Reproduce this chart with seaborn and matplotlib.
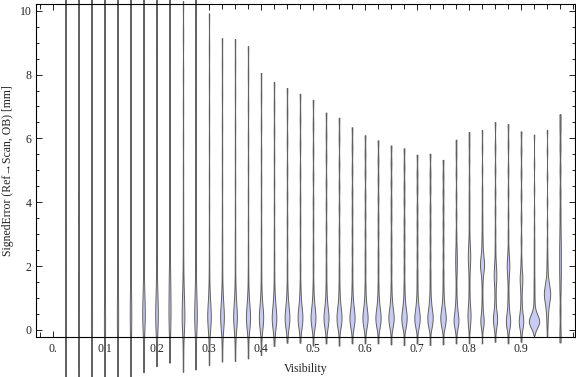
import matplotlib
matplotlib.use("Agg")
import matplotlib.pyplot as plt
import pandas as pd
import seaborn as sns
from matplotlib.ticker import MultipleLocator, FixedLocator

# visibility bins (violin centres)
visibility = [0.025, 0.05, 0.075, 0.1, 0.125, 0.15, 0.175, 0.2, 0.225, 0.25,
              0.275, 0.3, 0.325, 0.35, 0.375, 0.4, 0.425, 0.45, 0.475, 0.5,
              0.525, 0.55, 0.575, 0.6, 0.625, 0.65, 0.675, 0.7, 0.725, 0.75,
              0.775, 0.8, 0.825, 0.85, 0.875, 0.9, 0.925, 0.95, 0.975]

# smallest / largest signed error per bin [mm]
err_lo = [-1.8, -1.8, -1.8, -1.8, -1.7, -1.6, -1.34, -1.15, -1.04, -1.31,
          -1.25, -1.10, -0.99, -0.97, -0.89, -0.78, -0.50, -0.40, -0.40, -0.49,
          -0.42, -0.49, -0.42, -0.42, -0.42, -0.45, -0.47, -0.42, -0.47, -0.45,
          -0.42, -0.42, -0.42, -0.37, -0.42, -0.37, -0.16, -0.21, -0.39]
err_hi = [11.5, 11.5, 11.5, 11.5, 11.5, 11.5, 11.5, 11.5, 11.5, 10.3,
          10.8, 9.92, 9.14, 9.11, 8.89, 8.05, 7.77, 7.58, 7.40, 7.21,
          6.81, 6.65, 6.35, 6.10, 5.94, 5.78, 5.69, 5.49, 5.52, 5.33,
          5.96, 6.20, 6.26, 6.51, 6.45, 6.22, 6.12, 6.26, 6.76]

# remaining errors per bin [mm]
err_body = [
    [-1.2, -0.6, -0.2, 0.2, 0.6, 1.0, 1.6, 2.3, 3.1, 4.0, 4.9, 5.8, 6.7, 7.6, 8.5, 9.4, 10.3, 11.0],
    [-1.1, -0.5, -0.1, 0.3, 0.7, 1.1, 1.7, 2.4, 3.2, 4.1, 5.0, 5.9, 6.8, 7.7, 8.6, 9.5, 10.4, 11.0],
    [-1.2, -0.6, -0.2, 0.2, 0.5, 0.9, 1.4, 2.1, 2.9, 3.8, 4.7, 5.6, 6.5, 7.4, 8.3, 9.2, 10.1, 10.9],
    [-1.0, -0.5, -0.1, 0.2, 0.5, 0.9, 1.4, 2.0, 2.8, 3.7, 4.6, 5.5, 6.4, 7.3, 8.2, 9.1, 10.0, 10.9],
    [-0.9, -0.4, 0.0, 0.3, 0.6, 0.9, 1.3, 1.8, 2.5, 3.3, 4.2, 5.1, 6.0, 7.0, 8.0, 9.0, 10.0, 10.9],
    [-0.8, -0.3, 0.1, 0.3, 0.5, 0.8, 1.1, 1.5, 2.1, 2.9, 3.8, 4.8, 5.8, 6.8, 7.8, 8.8, 9.8, 10.8],
    [-0.8, -0.3, 0.05, 0.15, 0.25, 0.35, 0.45, 0.55, 0.65, 0.75, 0.9, 1.05, 1.25, 1.5, 1.9, 2.6, 3.5, 4.5, 5.5, 6.5, 7.5, 8.5, 9.5, 10.5],
    [-0.6, -0.2, 0.05, 0.15, 0.25, 0.35, 0.45, 0.55, 0.65, 0.75, 0.9, 1.05, 1.25, 1.5, 1.8, 2.4, 3.3, 4.3, 5.3, 6.3, 7.3, 8.3, 9.3, 10.3],
    [-0.5, -0.1, 0.1, 0.25, 0.4, 0.55, 0.7, 0.85, 1.0, 1.2, 1.4, 1.6, 1.8, 2.1, 2.5, 3.1, 4.0, 5.0, 6.0, 7.0, 8.0, 9.0, 10.0],
    [-0.7, -0.2, 0.05, 0.15, 0.25, 0.35, 0.45, 0.55, 0.65, 0.8, 0.95, 1.1, 1.3, 1.6, 2.0, 2.6, 3.3, 4.1, 5.0, 6.0, 7.0, 8.0, 9.2],
    [-0.6, -0.2, 0.05, 0.15, 0.25, 0.35, 0.45, 0.55, 0.65, 0.8, 0.95, 1.1, 1.3, 1.6, 2.0, 2.6, 3.3, 4.1, 5.0, 6.0, 7.0, 8.0, 9.0, 10.0],
    [-0.5, -0.1, 0.1, 0.2, 0.3, 0.35, 0.4, 0.45, 0.5, 0.6, 0.7, 0.85, 1.0, 1.2, 1.6, 2.2, 3.0, 3.9, 4.8, 5.8, 6.8, 7.8, 8.8],
    [-0.4, -0.05, 0.1, 0.2, 0.3, 0.35, 0.4, 0.45, 0.5, 0.6, 0.7, 0.85, 1.0, 1.2, 1.6, 2.2, 2.9, 3.7, 4.6, 5.5, 6.4, 7.4, 8.3],
    [-0.4, -0.05, 0.1, 0.2, 0.3, 0.35, 0.4, 0.45, 0.5, 0.6, 0.7, 0.85, 1.0, 1.2, 1.6, 2.2, 2.9, 3.7, 4.6, 5.5, 6.4, 7.4, 8.3],
    [-0.3, 0.05, 0.15, 0.25, 0.3, 0.35, 0.4, 0.45, 0.5, 0.6, 0.7, 0.85, 1.0, 1.3, 1.8, 2.5, 3.3, 4.2, 5.1, 6.0, 7.0, 8.0],
    [-0.2, 0.05, 0.15, 0.25, 0.3, 0.35, 0.4, 0.45, 0.5, 0.6, 0.7, 0.85, 1.0, 1.3, 1.8, 2.4, 3.1, 3.9, 4.7, 5.5, 6.4, 7.3],
    [-0.1, 0.1, 0.2, 0.25, 0.3, 0.35, 0.4, 0.45, 0.5, 0.6, 0.7, 0.85, 1.0, 1.2, 1.7, 2.3, 3.0, 3.8, 4.6, 5.4, 6.2, 7.0],
    [0.05, 0.15, 0.2, 0.3, 0.35, 0.4, 0.45, 0.5, 0.6, 0.7, 0.85, 1.05, 1.4, 2.0, 2.7, 3.4, 4.2, 5.0, 5.9, 6.8],
    [0.05, 0.15, 0.2, 0.3, 0.35, 0.4, 0.45, 0.5, 0.6, 0.7, 0.85, 1.05, 1.4, 2.0, 2.7, 3.4, 4.1, 4.9, 5.8, 6.6],
    [0.05, 0.15, 0.2, 0.3, 0.35, 0.4, 0.45, 0.5, 0.6, 0.7, 0.85, 1.05, 1.4, 2.0, 2.6, 3.3, 4.0, 4.8, 5.6, 6.4],
    [0.05, 0.15, 0.2, 0.3, 0.35, 0.4, 0.45, 0.5, 0.6, 0.7, 0.85, 1.05, 1.4, 1.9, 2.5, 3.2, 3.9, 4.6, 5.4, 6.1],
    [0.05, 0.15, 0.2, 0.3, 0.35, 0.4, 0.45, 0.5, 0.6, 0.7, 0.85, 1.05, 1.4, 1.9, 2.5, 3.1, 3.8, 4.5, 5.2, 6.0],
    [0.05, 0.15, 0.2, 0.3, 0.35, 0.4, 0.45, 0.5, 0.6, 0.7, 0.85, 1.05, 1.4, 1.9, 2.5, 3.1, 3.7, 4.3, 5.0, 5.7],
    [0.05, 0.15, 0.2, 0.3, 0.35, 0.4, 0.45, 0.5, 0.6, 0.7, 0.85, 1.05, 1.4, 1.9, 2.4, 3.0, 3.6, 4.2, 4.9, 5.5],
    [0.05, 0.15, 0.2, 0.3, 0.35, 0.4, 0.45, 0.5, 0.6, 0.7, 0.85, 1.05, 1.4, 1.9, 2.4, 3.0, 3.5, 4.1, 4.7, 5.3],
    [0.05, 0.15, 0.2, 0.3, 0.35, 0.4, 0.45, 0.5, 0.6, 0.7, 0.85, 1.05, 1.4, 1.9, 2.4, 2.9, 3.5, 4.0, 4.6, 5.2],
    [0.05, 0.15, 0.2, 0.3, 0.35, 0.4, 0.45, 0.5, 0.6, 0.7, 0.85, 1.05, 1.4, 1.9, 2.4, 2.9, 3.4, 4.0, 4.5, 5.1],
    [0.05, 0.15, 0.2, 0.3, 0.35, 0.4, 0.45, 0.5, 0.6, 0.7, 0.85, 1.05, 1.4, 1.8, 2.3, 2.8, 3.3, 3.8, 4.4, 4.9],
    [0.05, 0.15, 0.2, 0.3, 0.35, 0.4, 0.45, 0.5, 0.6, 0.7, 0.85, 1.05, 1.4, 1.8, 2.3, 2.8, 3.3, 3.8, 4.4, 4.9],
    [0.05, 0.15, 0.2, 0.3, 0.35, 0.4, 0.45, 0.5, 0.6, 0.7, 0.85, 1.05, 1.4, 1.8, 2.3, 2.8, 3.3, 3.8, 4.3, 4.8],
    [0.05, 0.15, 0.2, 0.25, 0.3, 0.35, 0.4, 0.5, 0.6, 0.75, 0.95, 1.3, 1.7, 1.95, 2.15, 2.35, 2.6, 3.0, 3.6, 4.2, 4.9, 5.5],
    [0.05, 0.2, 0.3, 0.4, 0.5, 0.55, 0.65, 0.8, 1.0, 1.3, 1.6, 1.9, 2.05, 2.2, 2.3, 2.4, 2.55, 2.7, 3.0, 3.4, 3.8, 4.2, 4.7, 5.3, 5.8],
    [0.05, 0.15, 0.2, 0.25, 0.3, 0.35, 0.4, 0.5, 0.65, 0.85, 1.1, 1.4, 1.6, 1.75, 1.85, 1.9, 1.95, 2.0, 2.05, 2.1, 2.15, 2.2, 2.25, 2.35, 2.45, 2.6, 2.8, 3.0, 3.3, 3.6, 4.0, 4.4, 5.0, 5.7],
    [0.05, 0.15, 0.25, 0.3, 0.35, 0.4, 0.45, 0.55, 0.7, 0.9, 1.15, 1.4, 1.55, 1.65, 1.75, 1.85, 2.0, 2.2, 2.6, 3.1, 3.7, 4.3, 5.0, 5.7],
    [0.05, 0.15, 0.2, 0.25, 0.3, 0.35, 0.45, 0.6, 0.8, 1.1, 1.5, 1.75, 1.9, 2.0, 2.1, 2.25, 2.5, 3.0, 3.6, 4.3, 5.0, 5.8],
    [0.05, 0.15, 0.2, 0.25, 0.3, 0.35, 0.45, 0.6, 0.8, 1.1, 1.35, 1.5, 1.6, 1.7, 1.85, 2.2, 2.8, 3.5, 4.2, 4.9, 5.6],
    [0.05, 0.08, 0.1, 0.12, 0.14, 0.15, 0.17, 0.18, 0.2, 0.21, 0.22, 0.24, 0.25, 0.26, 0.27, 0.28, 0.3, 0.31, 0.32, 0.34, 0.35, 0.37,
     0.38, 0.4, 0.42, 0.45, 0.48, 0.5, 0.55, 0.6, 0.7, 0.85, 1.0, 1.2, 1.4, 1.6, 1.9, 2.2, 2.5, 2.8, 3.2, 3.7, 4.4, 5.2],
    [0.1, 0.25, 0.4, 0.5, 0.6, 0.68, 0.75, 0.8, 0.85, 0.9, 0.94, 0.98, 1.0, 1.03, 1.06, 1.1, 1.13, 1.15, 1.18, 1.2, 1.23, 1.26, 1.3,
     1.34, 1.38, 1.42, 1.47, 1.53, 1.6, 1.7, 1.85, 2.0, 2.2, 2.45, 2.8, 3.3, 4.0, 4.8, 5.6],
    [0.0, 0.6, 1.2, 1.6, 1.9, 2.2, 2.5, 2.8, 3.2, 3.7, 4.3, 5.0, 5.7, 6.3],
]

x_ticks = [0.0, 0.1, 0.2, 0.3, 0.4, 0.5, 0.6, 0.7, 0.8, 0.9]
x_tick_labels = ["0.", "0.1", "0.2", "0.3", "0.4", "0.5", "0.6", "0.7", "0.8", "0.9"]

rows = []
for v, lo, hi, body in zip(visibility, err_lo, err_hi, err_body):
    for e in [lo] + body + [hi]:
        rows.append((v, e))
df = pd.DataFrame(rows, columns=["Visibility", "SignedError"])

sns.set_theme(style="ticks")
plt.rcParams["font.family"] = ["Liberation Serif", "DejaVu Serif"]

fig = plt.figure(figsize=(5.76, 3.77), dpi=100)
ax = fig.add_axes([36 / 576, 1 - 337 / 377, (575 - 36) / 576, (337 - 4) / 377])

sns.violinplot(data=df, x="Visibility", y="SignedError", native_scale=True,
               cut=0, bw_method=0.1, density_norm="area", width=0.8,
               inner=None, color="#c8ccf2", saturation=1,
               linecolor="#606060", linewidth=0.7, ax=ax)
for c in ax.collections:
    c.set_clip_on(False)

ax.set_xlim(-0.0327, 1.0038)
ax.set_ylim(-0.22, 10.21)

ax.xaxis.set_major_locator(FixedLocator(x_ticks))
ax.set_xticklabels(x_tick_labels)
ax.xaxis.set_minor_locator(MultipleLocator(0.025))
ax.yaxis.set_major_locator(MultipleLocator(2))
ax.yaxis.set_minor_locator(MultipleLocator(0.5))
ax.tick_params(which="both", direction="in", top=True, right=True,
               colors="#222222", labelsize=8.5, width=0.7)
ax.tick_params(axis="x", which="major", length=4, pad=4)
ax.tick_params(axis="x", which="minor", length=3.5)
ax.tick_params(axis="y", which="major", length=4.5, pad=3)
ax.tick_params(axis="y", which="minor", length=2.5)
for s in ax.spines.values():
    s.set_color("black")
    s.set_linewidth(0.8)

ax.set_xlabel("Visibility", fontsize=8.5, color="#222222", labelpad=6)
ax.set_ylabel("SignedError (Ref\u2192Scan, OB) [mm]", fontsize=8.5,
              color="#222222", labelpad=4)

plt.savefig("out.png", dpi=100)
